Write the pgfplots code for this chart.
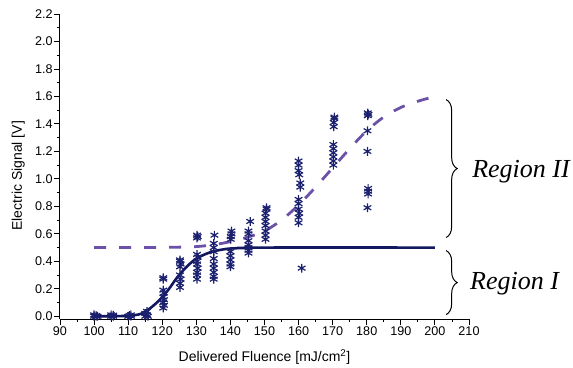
\documentclass[border=0pt]{standalone}
\usepackage{fontspec}
\setmainfont{Liberation Sans}
\newfontfamily\tnr{Liberation Serif}
\usepackage{pgfplots}
\pgfplotsset{compat=1.18}
\usetikzlibrary{decorations.pathreplacing}
\definecolor{navy}{RGB}{18,24,96}
\definecolor{markc}{RGB}{26,32,110}
\definecolor{purp}{RGB}{107,82,168}
\begin{document}
\begin{tikzpicture}
\begin{axis}[
 scale only axis, width=409bp, height=305bp,
 xmin=90, xmax=210, ymin=-0.02, ymax=2.2,
 axis x line=bottom, axis y line=left,
 axis line style={-, line width=1bp, black},
 xtick={90,100,110,120,130,140,150,160,170,180,190,200,210},
 ytick={0,0.2,0.4,0.6,0.8,1.0,1.2,1.4,1.6,1.8,2.0,2.2},
 minor x tick num=1, minor y tick num=1,
 tick align=outside, major tick length=6bp, minor tick length=3bp,
 every tick/.style={black, line width=0.9bp},
 tick label style={font=\fontsize{12.6bp}{14bp}\selectfont},
 /pgf/number format/assume math mode=true,
 yticklabel style={inner sep=1.2bp, /pgf/number format/.cd, fixed, fixed zerofill, precision=1},
 xticklabel style={inner sep=2bp, /pgf/number format/1000 sep={}},
 xlabel={Delivered Fluence [mJ/cm\textsuperscript{2}]},
 ylabel={Electric Signal [V]},
 label style={font=\fontsize{14bp}{16bp}\selectfont, inner sep=0pt},
 xlabel style={at={(axis description cs:0.5,-0.140)}, anchor=base},
 ylabel style={at={(axis description cs:-0.0856,0.4695)}, anchor=south},
 clip=false,
]
% fitted sigmoid (Region I)
\addplot[navy, line width=2.6bp, smooth] coordinates {
(100,0) (105,0) (110,0.003) (112,0.008) (114,0.02) (116,0.05) (118,0.09)
(120,0.14) (122,0.20) (124,0.27) (126,0.33) (128,0.38) (130,0.42) (132,0.445)
(134,0.465) (136,0.478) (138,0.487) (140,0.493) (145,0.498) (150,0.5) (200,0.5)};
% fitted sigmoid (Region II)
\addplot[purp, line width=2.8bp, dash pattern=on 12bp off 13bp, smooth] coordinates {
(100,0.5) (110,0.5) (120,0.501) (125,0.503) (130,0.507) (135,0.52) (140,0.543)
(145,0.575) (150,0.62) (155,0.70) (160,0.81) (165,0.94) (170,1.08) (175,1.22)
(180,1.35) (185,1.45) (190,1.52) (195,1.565) (200,1.60)};
% measurements
\addplot[only marks, mark=asterisk, mark size=4.4bp, markc, mark options={line width=1.2bp}] coordinates {
(100,0) (100,0.01) (100.6,0) (100.6,0.005) (101,0)
(105,0) (105,0.01) (105.6,0) (105.6,0.008)
(110,0) (110.4,0.005) (110.8,0) (110.8,0.01)
(115,0) (115,0.02) (115.5,0.01) (115.8,0) (115.5,0.035)
(120.3,0.28) (120.3,0.27) (120.3,0.19) (120.5,0.17) (120.3,0.14) (120.5,0.12) (120.3,0.10) (120.5,0.08) (120.3,0.06)
(125.2,0.41) (125.2,0.40) (125.4,0.38) (125.2,0.36) (125.2,0.30) (125.4,0.27) (125.2,0.24) (125.2,0.21)
(130.2,0.59) (130.4,0.58) (130.2,0.57) (130.2,0.45) (130.4,0.43) (130.2,0.40) (130.2,0.38) (130.4,0.35) (130.2,0.32) (130.2,0.30) (130.2,0.27)
(135.3,0.59) (135.1,0.53) (135.1,0.50) (135.1,0.47) (135.1,0.42) (135.1,0.38) (135.1,0.35) (135.1,0.32) (135.1,0.29) (135.1,0.27)
(140.3,0.62) (140.3,0.60) (140.1,0.58) (140.1,0.56) (140.0,0.47) (140.0,0.44) (140.0,0.41) (140.0,0.38) (140.0,0.36)
(145.8,0.69) (145.3,0.62) (145.3,0.60) (145.3,0.55) (145.3,0.52) (145.3,0.50) (145.3,0.48) (145.3,0.46)
(150.6,0.79) (150.6,0.78) (150.3,0.75) (150.3,0.72) (150.3,0.69) (150.3,0.66) (150.3,0.62) (150.3,0.59) (150.3,0.56)
(160,1.13) (160,1.10) (160,1.06) (160.2,1.03) (160.5,0.97) (160.5,0.94) (160,0.85) (160,0.82) (160,0.78) (160.2,0.75) (160,0.72) (160,0.68)
(160.9,0.35)
(170.5,1.45) (170.5,1.44) (170.3,1.41) (170.3,1.38) (170.2,1.25) (170.2,1.22) (170.2,1.19) (170.2,1.16) (170.2,1.13) (170.2,1.10)
(180.3,1.48) (180.5,1.47) (180.3,1.46) (180.2,1.35) (180.2,1.20) (180.4,0.93) (180.4,0.91) (180.4,0.89) (180.2,0.79)};
% region braces and labels
\draw[decorate, decoration={brace, amplitude=11bp}, line width=1bp] (axis cs:203.3,1.577) -- (axis cs:203.3,0.573);
\draw[decorate, decoration={brace, amplitude=11bp}, line width=1bp] (axis cs:203.3,0.478) -- (axis cs:203.3,0.012);
\node[anchor=base west, inner sep=0pt, font=\tnr\itshape\fontsize{26bp}{30bp}\selectfont] at (axis cs:210.9,1.007) {Region II};
\node[anchor=base west, inner sep=0pt, font=\tnr\itshape\fontsize{26bp}{30bp}\selectfont] at (axis cs:210.3,0.194) {Region I};
\end{axis}
\pgfresetboundingbox
\path[use as bounding box] (-60bp,-49bp) rectangle (513bp,319bp);
\end{tikzpicture}
\end{document}
